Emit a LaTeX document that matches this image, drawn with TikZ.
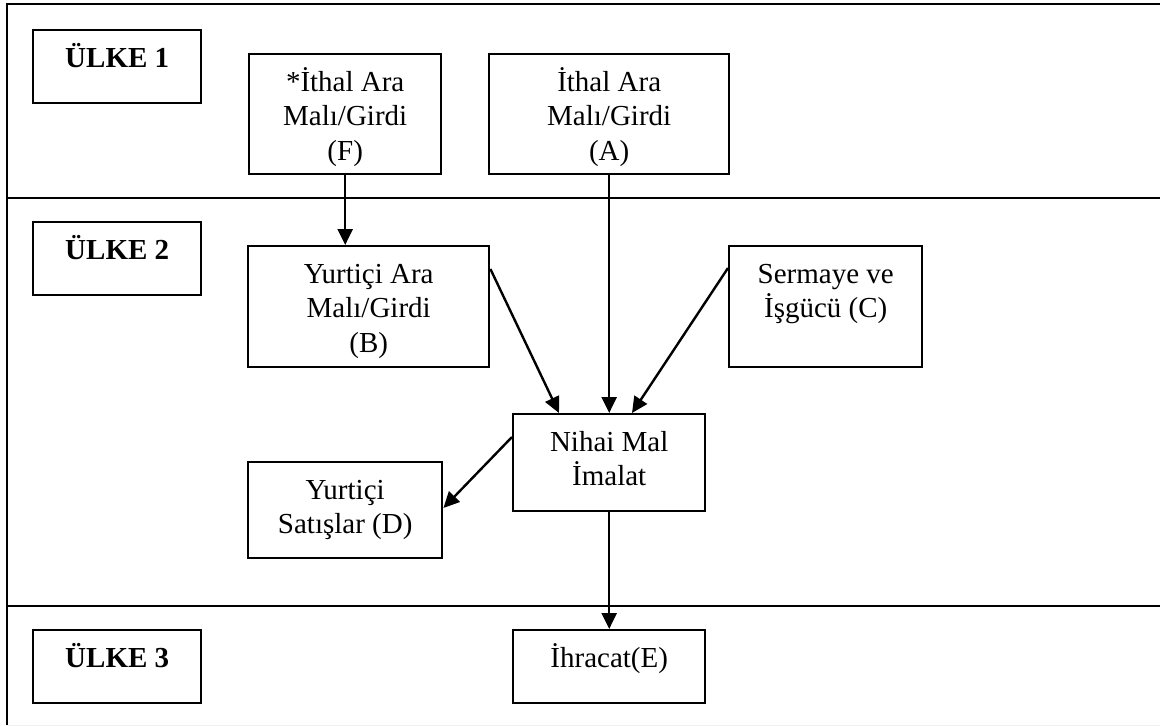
\documentclass[tikz,border=0pt]{standalone}
\usepackage{fontspec}
\setmainfont{Liberation Serif}
\usetikzlibrary{arrows.meta,calc}
\begin{document}
\begin{tikzpicture}[x=1pt,y=-1pt,
  box/.style={draw=black, line width=2.4pt, inner sep=0pt, anchor=north west},
  lbl/.style={anchor=north, inner sep=0pt, align=center,
    font=\fontsize{29}{34.5}\selectfont},
  flow/.style={draw=black, line width=2.4pt, -{Triangle[length=16pt,width=15pt]}},
  frame/.style={draw=black, line width=2.4pt}]
\useasboundingbox (0,0) rectangle (1160,726);

% outer frame (left and top) and the country dividers
\coordinate (tl) at (7,4);
\coordinate (tr) at (1160,4);
\coordinate (bl) at (7,725);
\draw[frame] (bl) -- (tl) -- (tr);
\draw[frame] (7,198) -- (1160,198);
\draw[frame] (7,606) -- (1160,606);
\draw[gray!12, line width=1pt] (7,725.5) -- (1160,725.5);

% country labels
\node[box, minimum width=168pt, minimum height=73pt] (U1) at (32,29) {};
\node[box, minimum width=168pt, minimum height=73pt] (U2) at (32,221) {};
\node[box, minimum width=168pt, minimum height=73pt] (U3) at (32,629) {};
\node[lbl] at ($(U1.north)+(0,14)$) {\strut\textbf{ÜLKE 1}};
\node[lbl] at ($(U2.north)+(0,14)$) {\strut\textbf{ÜLKE 2}};
\node[lbl] at ($(U3.north)+(0,14)$) {\strut\textbf{ÜLKE 3}};

% flow boxes
\node[box, minimum width=192pt, minimum height=120pt] (F) at (248,53) {};
\node[box, minimum width=240pt, minimum height=120pt] (A) at (488,53) {};
\node[box, minimum width=241pt, minimum height=121pt] (B) at (247,245) {};
\node[box, minimum width=193pt, minimum height=121pt] (C) at (728,245) {};
\node[box, minimum width=192pt, minimum height=97pt] (N) at (512,413) {};
\node[box, minimum width=194pt, minimum height=96pt] (D) at (247,461) {};
\node[box, minimum width=192pt, minimum height=73pt] (E) at (512,629) {};

\node[lbl] at ($(F.north)+(0,14)$) {\strut *İthal Ara\\Malı/Girdi\\(F)};
\node[lbl] at ($(A.north)+(0,14)$) {\strut İthal Ara\\Malı/Girdi\\(A)};
\node[lbl] at ($(B.north)+(0,14)$) {\strut Yurtiçi Ara\\Malı/Girdi\\(B)};
\node[lbl] at ($(C.north)+(0,14)$) {\strut Sermaye ve\\İşgücü (C)};
\node[lbl] at ($(N.north)+(0,14)$) {\strut Nihai Mal\\İmalat};
\node[lbl] at ($(D.north)+(0,14)$) {\strut Yurtiçi\\Satışlar (D)};
\node[lbl] at ($(E.north)+(0,14)$) {\strut İhracat(E)};

% connectors
\draw[flow] (F.south) -- (F.south |- B.north);
\draw[flow] (A.south) -- (N.north);
\draw[flow] ([yshift=-24pt]B.north east) -- ([xshift=47pt]N.north west);
\draw[flow] ([yshift=-23pt]C.north west) -- ([xshift=120pt]N.north west);
\draw[flow] ([yshift=-24pt]N.north west) -- ([yshift=-47pt]D.north east);
\draw[flow] (N.south) -- (E.north);
\end{tikzpicture}
\end{document}
